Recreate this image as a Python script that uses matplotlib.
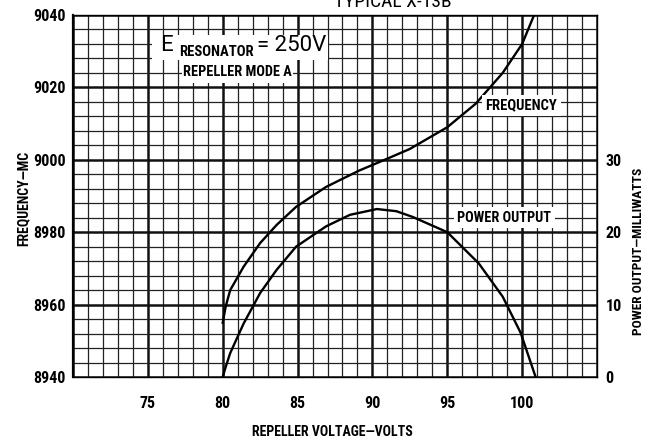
import matplotlib.pyplot as plt
from matplotlib.patches import Rectangle

# frequency curve (repeller volts, MC)
freq_volts = [80, 80.2, 80.5, 81.4, 82.5, 83.6, 84.9, 86.9, 89.1, 91.1, 92.5,
              95.0, 96.9, 98.7, 100.0, 100.8]
freq_mc = [8955, 8959.5, 8964, 8970.5, 8977, 8982, 8987, 8992.5, 8997, 9000.5,
           9003, 9009, 9015.5, 9024, 9032, 9040]

# power output curve (repeller volts, milliwatts)
power_volts = [80, 80.2, 80.5, 81.4, 82.5, 83.6, 84.9, 86.9, 88.5, 90.3, 91.6,
               92.7, 95.0, 97.1, 98.7, 99.9, 100.9]
power_mw = [0, 1.4, 3.3, 7.4, 11.6, 14.8, 18, 20.8, 22.4, 23.2, 22.9,
            22.1, 20, 15.7, 11.1, 6.1, 0]

x_ticks = [70, 75, 80, 85, 90, 95, 100, 105]
x_labels = ["", "75", "80", "85", "90", "95", "100", ""]
freq_ticks = [8940, 8960, 8980, 9000, 9020, 9040]
power_ticks = [0, 10, 20, 30]

plt.rcParams["font.family"] = ["Roboto Condensed", "Liberation Sans Narrow",
                               "Roboto", "DejaVu Sans"]

fig = plt.figure(figsize=(6.58, 4.41), dpi=100)
ax = fig.add_axes([73 / 658, 64 / 441, 524 / 658, 362 / 441])

ax.set_xlim(70, 105)
ax.set_ylim(8940, 9040)

ax.set_xticks(x_ticks)
ax.set_xticklabels(x_labels, fontsize=11.5, fontweight="bold")
ax.set_xticks(range(70, 106), minor=True)
ax.set_yticks(freq_ticks)
ax.set_yticklabels([str(t) for t in freq_ticks], fontsize=11.5, fontweight="bold")
ax.set_yticks(range(8940, 9041, 4), minor=True)
ax.tick_params(which="both", length=0)
ax.tick_params(axis="x", pad=14)
ax.tick_params(axis="y", pad=5)

ax.set_axisbelow(True)
ax.grid(which="major", color="#111111", lw=1.8)
ax.grid(which="minor", color="#222222", lw=0.9)
for side in ["top", "right", "bottom"]:
    ax.spines[side].set_linewidth(1.0)
ax.spines["left"].set_linewidth(1.6)

# white label panels over the grid
ax.add_patch(Rectangle((75.3, 9027.6), 11.7, 7.0, fc="white", ec="none", zorder=1))
ax.add_patch(Rectangle((77.3, 9021.3), 7.4, 6.4, fc="white", ec="none", zorder=1))

ax.plot(freq_volts, freq_mc, color="black", lw=1.7, zorder=3)

ax.text(75.8, 9031.6, "E", fontsize=16, ha="left", va="center",
        family="Roboto", zorder=4)
ax.text(77.1, 9029.9, "RESONATOR", fontsize=10.5, fontweight="bold",
        ha="left", va="center", zorder=4)
ax.text(82.3, 9031.6, "= 250V", fontsize=16, ha="left", va="center",
        family="Roboto", zorder=4)
ax.text(81.0, 9024.2, "REPELLER MODE A", fontsize=10.3, fontweight="bold",
        ha="center", va="center", zorder=4)

ax.text(99.95, 9015.0, "FREQUENCY", fontsize=10.5, fontweight="bold",
        ha="center", va="center", zorder=4,
        bbox=dict(fc="white", ec="none", pad=2.5))
ax.text(98.8, 8984.0, "POWER OUTPUT", fontsize=10.3, fontweight="bold",
        ha="center", va="center", zorder=4,
        bbox=dict(fc="white", ec="none", pad=2.5))

ax2 = ax.twinx()
ax2.set_ylim(0, 50)
ax2.set_yticks(power_ticks)
ax2.set_yticklabels([str(t) for t in power_ticks], fontsize=11.5, fontweight="bold")
ax2.tick_params(length=0, pad=6)
for side in ["top", "right", "bottom", "left"]:
    ax2.spines[side].set_visible(False)
ax2.plot(power_volts, power_mw, color="black", lw=1.7, zorder=3)

fig.text(0.035, 0.551, "FREQUENCY—MC", rotation=90, fontsize=10,
         fontweight="bold", ha="center", va="center")
fig.text(0.970, 0.429, "POWER OUTPUT—MILLIWATTS", rotation=90, fontsize=9.6,
         fontweight="bold", ha="center", va="center")
fig.text(0.505, 0.020, "REPELLER VOLTAGE—VOLTS", fontsize=10,
         fontweight="bold", ha="center", va="center")
fig.text(0.597, 0.984, "TYPICAL X-13B", fontsize=14, ha="center",
         va="baseline")

fig.savefig("out.png", dpi=100)
